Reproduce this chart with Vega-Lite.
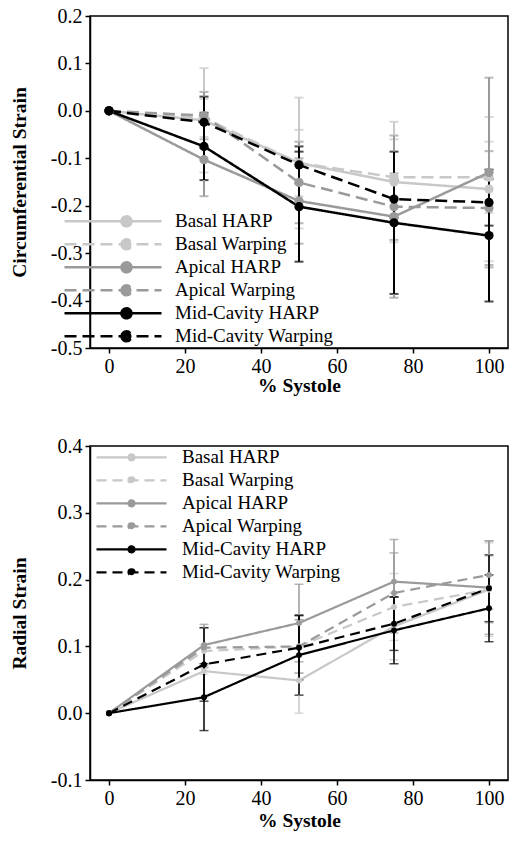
{
  "$schema": "https://vega.github.io/schema/vega-lite/v6.json",
  "autosize": {"type": "pad"},
  "padding": {"left": 8, "top": 5, "right": 0, "bottom": 0},
  "background": "white",
  "bounds": "flush",
  "spacing": 98,
  "config": {
    "font": "Liberation Serif, Times New Roman, serif",
    "locale": {"number": {"decimal": ".", "thousands": ",", "grouping": [3], "currency": ["$", ""], "minus": "-"}},
    "view": {"stroke": "black", "strokeWidth": 1.5},
    "axis": {
      "labelFont": "Liberation Serif, Times New Roman, serif", "labelFontSize": 20, "labelColor": "black", "labelPadding": 3,
      "titleFont": "Liberation Serif, Times New Roman, serif", "titleFontSize": 19.5, "titleFontWeight": "bold", "titleColor": "black",
      "domainColor": "black", "domainWidth": 1.5, "tickColor": "black", "tickWidth": 1.5, "tickSize": 5, "grid": false
    },
    "legend": {"labelFont": "Liberation Serif, Times New Roman, serif", "labelFontSize": 19, "labelColor": "black", "labelLimit": 300}
  },
  "datasets": {
    "circ": [
      {"series": "Basal HARP", "x": 0, "y": 0, "err": 0},
      {"series": "Basal HARP", "x": 25, "y": -0.02, "err": 0.11},
      {"series": "Basal HARP", "x": 50, "y": -0.11, "err": 0.138},
      {"series": "Basal HARP", "x": 75, "y": -0.15, "err": 0.127},
      {"series": "Basal HARP", "x": 100, "y": -0.165, "err": 0.152},
      {"series": "Basal Warping", "x": 0, "y": 0, "err": 0},
      {"series": "Basal Warping", "x": 25, "y": -0.015, "err": 0.04},
      {"series": "Basal Warping", "x": 50, "y": -0.11, "err": 0.07},
      {"series": "Basal Warping", "x": 75, "y": -0.14, "err": 0.08},
      {"series": "Basal Warping", "x": 100, "y": -0.14, "err": 0.075},
      {"series": "Apical HARP", "x": 0, "y": 0, "err": 0},
      {"series": "Apical HARP", "x": 25, "y": -0.103, "err": 0.077},
      {"series": "Apical HARP", "x": 50, "y": -0.19, "err": 0.09},
      {"series": "Apical HARP", "x": 75, "y": -0.223, "err": 0.171},
      {"series": "Apical HARP", "x": 100, "y": -0.13, "err": 0.2},
      {"series": "Apical Warping", "x": 0, "y": 0, "err": 0},
      {"series": "Apical Warping", "x": 25, "y": -0.01, "err": 0.05},
      {"series": "Apical Warping", "x": 50, "y": -0.151, "err": 0.086},
      {"series": "Apical Warping", "x": 75, "y": -0.202, "err": 0.07},
      {"series": "Apical Warping", "x": 100, "y": -0.205, "err": 0.12},
      {"series": "Mid-Cavity HARP", "x": 0, "y": 0, "err": 0},
      {"series": "Mid-Cavity HARP", "x": 25, "y": -0.075, "err": 0.071},
      {"series": "Mid-Cavity HARP", "x": 50, "y": -0.202, "err": 0.116},
      {"series": "Mid-Cavity HARP", "x": 75, "y": -0.236, "err": 0.15},
      {"series": "Mid-Cavity HARP", "x": 100, "y": -0.263, "err": 0.139},
      {"series": "Mid-Cavity Warping", "x": 0, "y": 0, "err": 0},
      {"series": "Mid-Cavity Warping", "x": 25, "y": -0.024, "err": 0.054},
      {"series": "Mid-Cavity Warping", "x": 50, "y": -0.114, "err": 0.039},
      {"series": "Mid-Cavity Warping", "x": 75, "y": -0.186, "err": 0.04},
      {"series": "Mid-Cavity Warping", "x": 100, "y": -0.193, "err": 0.049}
    ],
    "rad": [
      {"series": "Basal HARP", "x": 0, "y": 0, "err": 0},
      {"series": "Basal HARP", "x": 25, "y": 0.063, "err": 0.04},
      {"series": "Basal HARP", "x": 50, "y": 0.049, "err": 0.049},
      {"series": "Basal HARP", "x": 75, "y": 0.13, "err": 0.05},
      {"series": "Basal HARP", "x": 100, "y": 0.185, "err": 0.07},
      {"series": "Basal Warping", "x": 0, "y": 0, "err": 0},
      {"series": "Basal Warping", "x": 25, "y": 0.093, "err": 0.035},
      {"series": "Basal Warping", "x": 50, "y": 0.1, "err": 0.04},
      {"series": "Basal Warping", "x": 75, "y": 0.159, "err": 0.05},
      {"series": "Basal Warping", "x": 100, "y": 0.185, "err": 0.05},
      {"series": "Apical HARP", "x": 0, "y": 0, "err": 0},
      {"series": "Apical HARP", "x": 25, "y": 0.102, "err": 0.031},
      {"series": "Apical HARP", "x": 50, "y": 0.135, "err": 0.058},
      {"series": "Apical HARP", "x": 75, "y": 0.197, "err": 0.063},
      {"series": "Apical HARP", "x": 100, "y": 0.188, "err": 0.07},
      {"series": "Apical Warping", "x": 0, "y": 0, "err": 0},
      {"series": "Apical Warping", "x": 25, "y": 0.098, "err": 0.03},
      {"series": "Apical Warping", "x": 50, "y": 0.1, "err": 0.04},
      {"series": "Apical Warping", "x": 75, "y": 0.18, "err": 0.06},
      {"series": "Apical Warping", "x": 100, "y": 0.207, "err": 0.051},
      {"series": "Mid-Cavity HARP", "x": 0, "y": 0, "err": 0},
      {"series": "Mid-Cavity HARP", "x": 25, "y": 0.024, "err": 0.05},
      {"series": "Mid-Cavity HARP", "x": 50, "y": 0.087, "err": 0.06},
      {"series": "Mid-Cavity HARP", "x": 75, "y": 0.124, "err": 0.05},
      {"series": "Mid-Cavity HARP", "x": 100, "y": 0.157, "err": 0.05},
      {"series": "Mid-Cavity Warping", "x": 0, "y": 0, "err": 0},
      {"series": "Mid-Cavity Warping", "x": 25, "y": 0.073, "err": 0.055},
      {"series": "Mid-Cavity Warping", "x": 50, "y": 0.098, "err": 0.048},
      {"series": "Mid-Cavity Warping", "x": 75, "y": 0.134, "err": 0.04},
      {"series": "Mid-Cavity Warping", "x": 100, "y": 0.187, "err": 0.05}
    ]
  },
  "resolve": {
    "scale": {"color": "independent", "strokeDash": "independent", "x": "independent", "y": "independent"},
    "legend": {"color": "independent", "strokeDash": "independent"}
  },
  "vconcat": [
    {
      "width": 418,
      "height": 332,
      "data": {"name": "circ"},
      "encoding": {
        "x": {"field": "x", "type": "quantitative", "title": "% Systole",
          "scale": {"domain": [-5, 105], "nice": false, "zero": false},
          "axis": {"values": [0, 20, 40, 60, 80, 100], "format": "d", "titleY": 37, "titleBaseline": "middle"}}
      },
      "layer": [
        {
          "transform": [{"filter": "datum.err > 0"}],
          "mark": {"type": "errorbar", "ticks": {"size": 9}, "thickness": 2},
          "encoding": {
            "y": {"field": "y", "type": "quantitative", "title": "Circumferential Strain",
              "scale": {"domain": [-0.5, 0.2], "nice": false, "zero": false},
              "axis": {"values": [-0.5, -0.4, -0.3, -0.2, -0.1, 0, 0.1, 0.2], "format": ".1f", "titleX": -71, "titleY": 166, "titleBaseline": "middle"}},
            "yError": {"field": "err"},
            "color": {"field": "series", "type": "nominal",
              "scale": {"domain": ["Basal HARP", "Basal Warping", "Apical HARP", "Apical Warping", "Mid-Cavity HARP", "Mid-Cavity Warping"],
                "range": ["#c8c8c8", "#c8c8c8", "#9a9a9a", "#9a9a9a", "#000000", "#000000"]}}
          }
        },
        {
          "mark": {"type": "line", "strokeWidth": 2.5},
          "encoding": {
            "y": {"field": "y", "type": "quantitative"},
            "color": {"field": "series", "type": "nominal",
              "legend": {
                "orient": "none", "legendX": -27, "legendY": 194, "title": null, "padding": 0,
                "symbolType": "M-1,0L1,0M0.175,0A0.103,0.103,0,1,1,0.381,0A0.103,0.103,0,1,1,0.175,0Z",
                "symbolSize": 9409, "symbolStrokeWidth": 2.5, "labelOffset": 12, "rowPadding": 0, "clipHeight": 22.7,
                "encode": {"symbols": {"update": {
                  "fill": {"signal": "indexof(datum.value, 'Basal') == 0 ? '#c8c8c8' : indexof(datum.value, 'Apical') == 0 ? '#9a9a9a' : '#000000'"},
                  "fillOpacity": {"value": 1}}}}
              }},
            "strokeDash": {"field": "series", "type": "nominal",
              "scale": {"domain": ["Basal HARP", "Basal Warping", "Apical HARP", "Apical Warping", "Mid-Cavity HARP", "Mid-Cavity Warping"],
                "range": [[1, 0], [12, 6], [1, 0], [12, 6], [1, 0], [12, 6]]}}
          }
        },
        {
          "mark": {"type": "point", "filled": true, "size": 85, "opacity": 1},
          "encoding": {
            "y": {"field": "y", "type": "quantitative"},
            "color": {"field": "series", "type": "nominal"}
          }
        }
      ]
    },
    {
      "width": 418,
      "height": 334,
      "data": {"name": "rad"},
      "encoding": {
        "x": {"field": "x", "type": "quantitative", "title": "% Systole",
          "scale": {"domain": [-5, 105], "nice": false, "zero": false},
          "axis": {"values": [0, 20, 40, 60, 80, 100], "format": "d", "titleY": 40, "titleBaseline": "middle"}}
      },
      "layer": [
        {
          "transform": [{"filter": "datum.err > 0"}],
          "mark": {"type": "errorbar", "ticks": {"size": 9}, "thickness": 1.5},
          "encoding": {
            "y": {"field": "y", "type": "quantitative", "title": "Radial Strain",
              "scale": {"domain": [-0.1, 0.4], "nice": false, "zero": false},
              "axis": {"values": [-0.1, 0, 0.1, 0.2, 0.3, 0.4], "format": ".1f", "titleX": -71, "titleY": 167, "titleBaseline": "middle"}},
            "yError": {"field": "err"},
            "color": {"field": "series", "type": "nominal",
              "scale": {"domain": ["Basal HARP", "Basal Warping", "Apical HARP", "Apical Warping", "Mid-Cavity HARP", "Mid-Cavity Warping"],
                "range": ["#c8c8c8", "#c8c8c8", "#9a9a9a", "#9a9a9a", "#000000", "#000000"]}}
          }
        },
        {
          "mark": {"type": "line", "strokeWidth": 2.2},
          "encoding": {
            "y": {"field": "y", "type": "quantitative"},
            "color": {"field": "series", "type": "nominal",
              "legend": {
                "orient": "none", "legendX": 5, "legendY": 0, "title": null, "padding": 0,
                "symbolType": "M-1,0L1,0M-0.086,0A0.086,0.086,0,1,1,0.086,0A0.086,0.086,0,1,1,-0.086,0Z",
                "symbolSize": 4900, "symbolStrokeWidth": 2.2, "labelOffset": 14, "rowPadding": 0, "clipHeight": 22.7,
                "encode": {"symbols": {"update": {
                  "fill": {"signal": "indexof(datum.value, 'Basal') == 0 ? '#c8c8c8' : indexof(datum.value, 'Apical') == 0 ? '#9a9a9a' : '#000000'"},
                  "fillOpacity": {"value": 1}}}}
              }},
            "strokeDash": {"field": "series", "type": "nominal",
              "scale": {"domain": ["Basal HARP", "Basal Warping", "Apical HARP", "Apical Warping", "Mid-Cavity HARP", "Mid-Cavity Warping"],
                "range": [[1, 0], [10, 6], [1, 0], [10, 6], [1, 0], [10, 6]]}}
          }
        },
        {
          "mark": {"type": "point", "filled": true, "size": 35, "opacity": 1},
          "encoding": {
            "y": {"field": "y", "type": "quantitative"},
            "color": {"field": "series", "type": "nominal"}
          }
        }
      ]
    }
  ]
}
